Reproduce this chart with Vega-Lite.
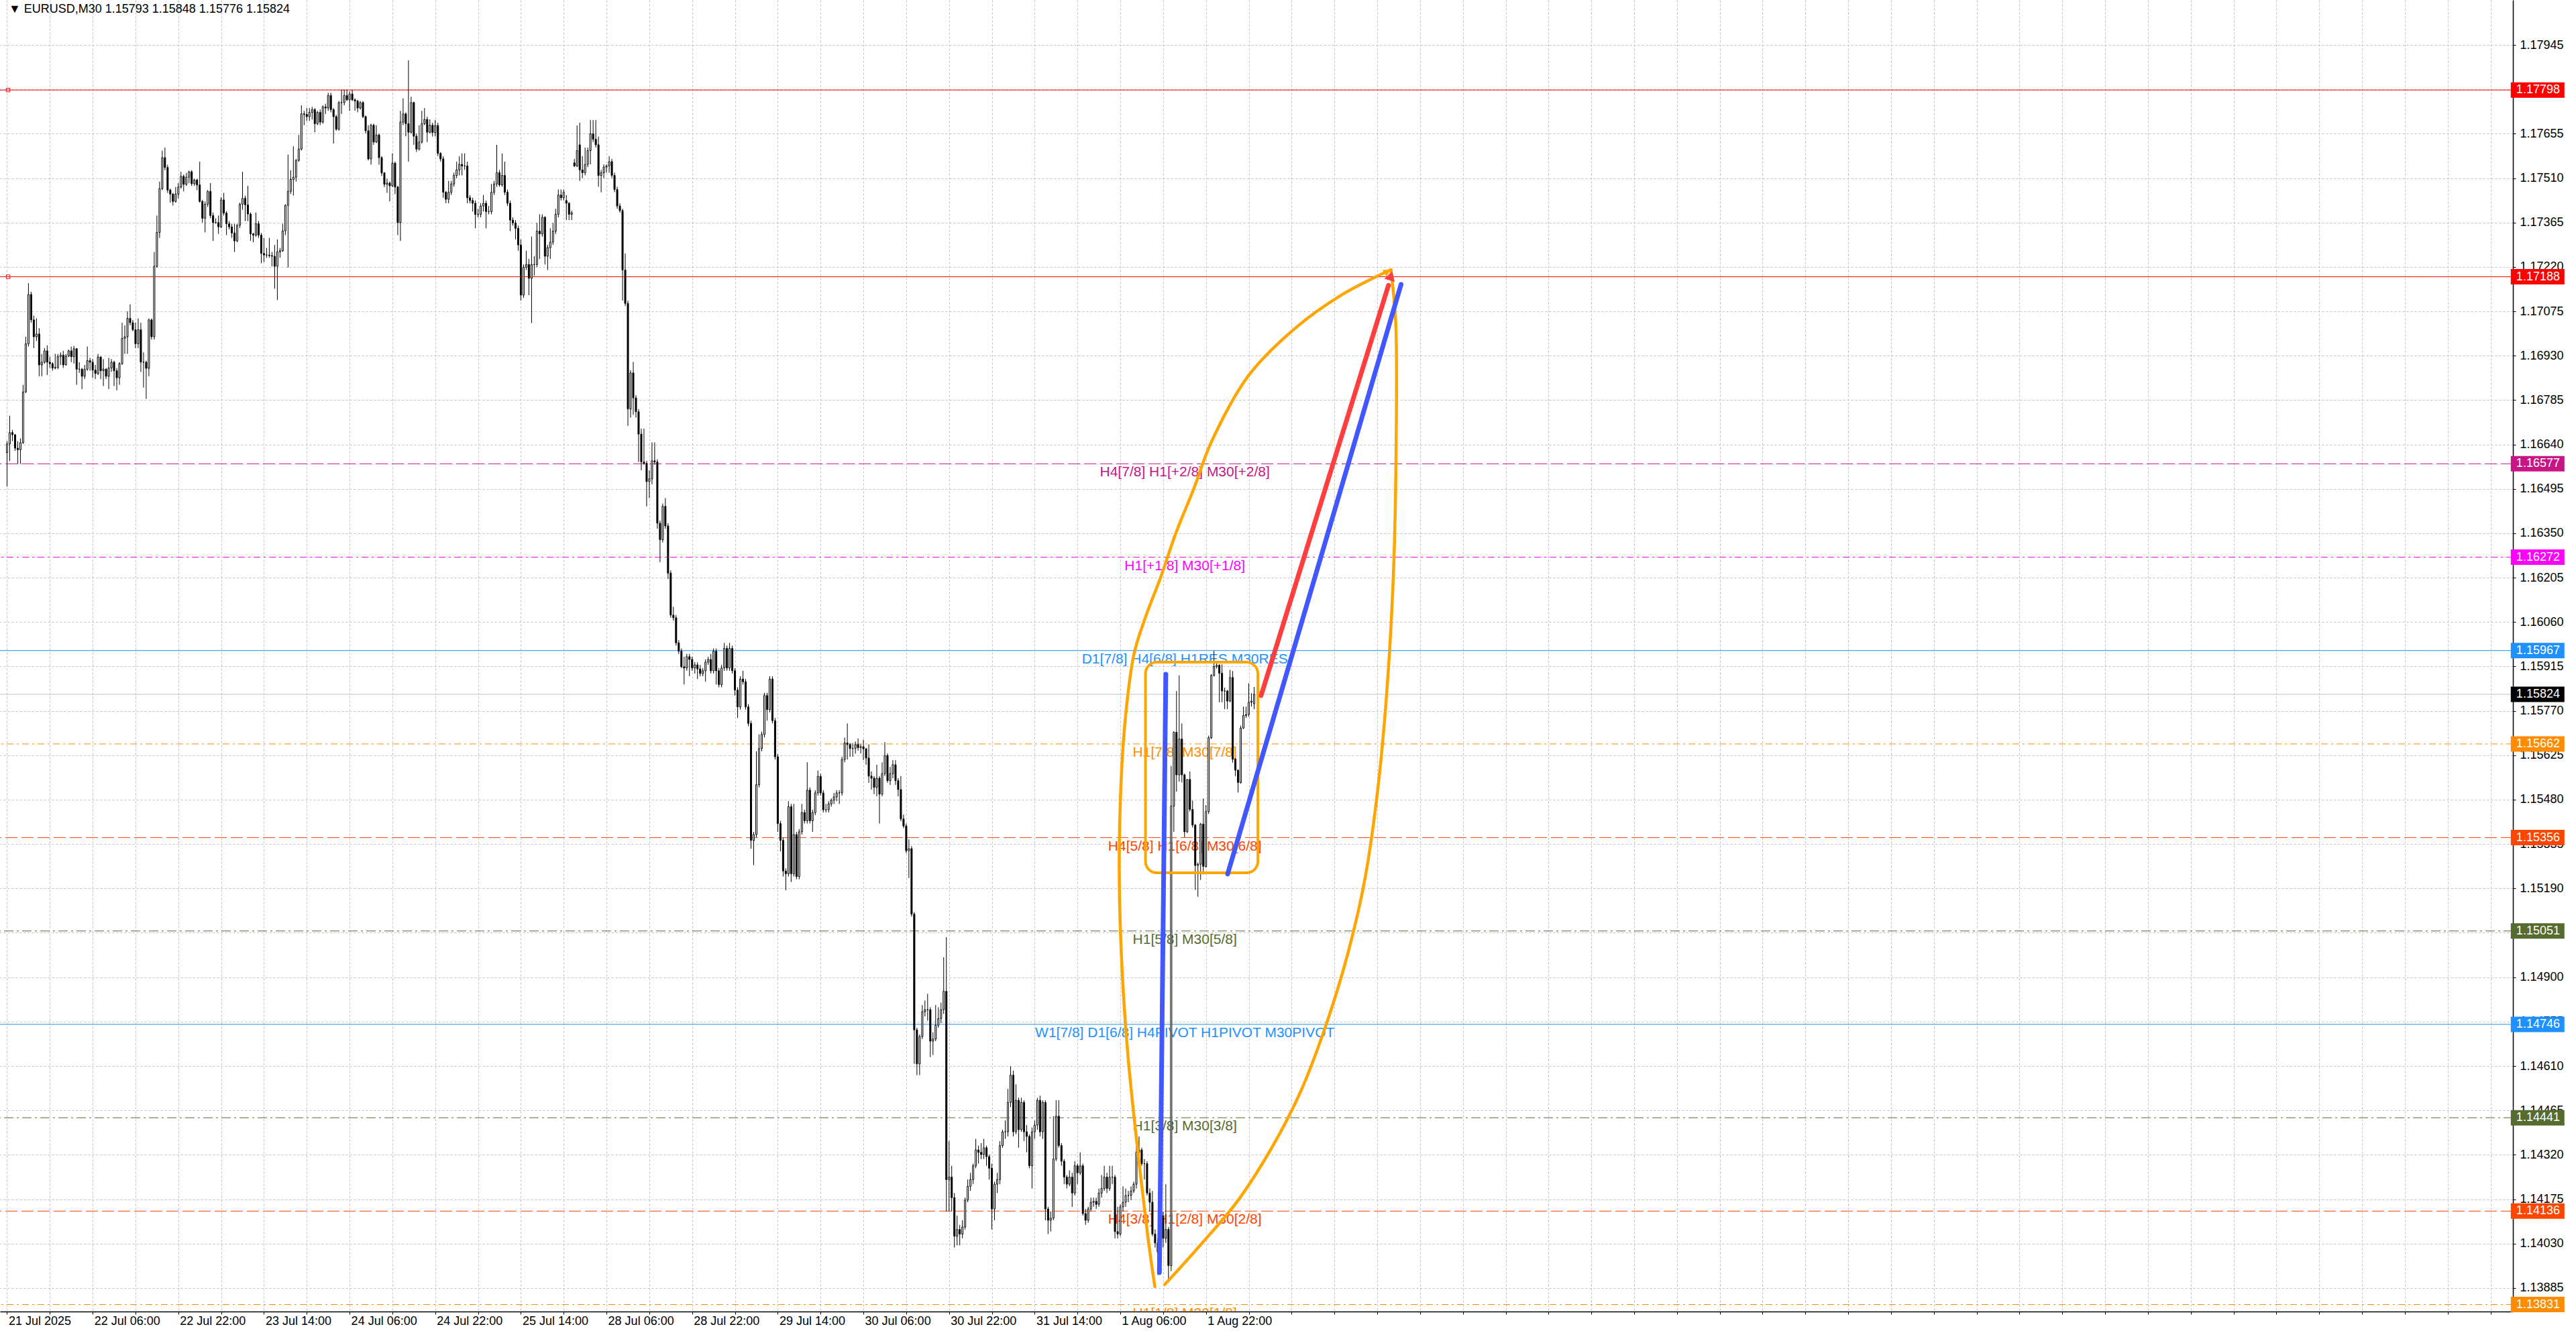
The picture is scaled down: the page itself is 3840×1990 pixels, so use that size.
{
"$schema": "https://vega.github.io/schema/vega-lite/v6.json",
"width": 3746, "height": 1955,
"autosize": {"type": "none"},
"padding": {"left": 0, "top": 0, "right": 94, "bottom": 35},
"background": "#FFFFFF",
"config": {"view": {"stroke": null}},
"datasets": {
"title": [{"t": "▼  EURUSD,M30  1.15793 1.15848 1.15776 1.15824"}],
"levels": [
{"p":1.17798,"g":"Ext","label":""},
{"p":1.17188,"g":"Ext","label":""},
{"p":1.16577,"g":"+2/8","label":"H4[7/8] H1[+2/8] M30[+2/8]"},
{"p":1.16272,"g":"+1/8","label":"H1[+1/8] M30[+1/8]"},
{"p":1.15967,"g":"RES","label":"D1[7/8] H4[6/8] H1RES M30RES"},
{"p":1.15662,"g":"7/8","label":"H1[7/8] M30[7/8]"},
{"p":1.15356,"g":"6/8","label":"H4[5/8] H1[6/8] M30[6/8]"},
{"p":1.15051,"g":"5/8","label":"H1[5/8] M30[5/8]"},
{"p":1.14746,"g":"PIVOT","label":"W1[7/8] D1[6/8] H4PIVOT H1PIVOT M30PIVOT"},
{"p":1.14441,"g":"3/8","label":"H1[3/8] M30[3/8]"},
{"p":1.14136,"g":"2/8","label":"H4[3/8] H1[2/8] M30[2/8]"},
{"p":1.13831,"g":"1/8","label":"H1[1/8] M30[1/8]"},
{"p":1.15824,"g":"Price","label":""}
],
"box": [{"x1":425.4,"x2":467.4,"p1":1.15929,"p2":1.15241}],
"curve": [
{"b":"L","k":1,"x":428.9,"p":1.13889},{"b":"L","k":2,"x":426.4,"p":1.14045},{"b":"L","k":3,"x":422.4,"p":1.14343},{"b":"L","k":4,"x":418.9,"p":1.14639},
{"b":"L","k":5,"x":416.6,"p":1.14934},{"b":"L","k":6,"x":415.6,"p":1.15230},{"b":"L","k":7,"x":416.1,"p":1.15500},{"b":"L","k":8,"x":417.9,"p":1.15747},
{"b":"L","k":9,"x":421.1,"p":1.15955},{"b":"L","k":10,"x":425.4,"p":1.16076},{"b":"L","k":11,"x":431.1,"p":1.16207},{"b":"L","k":12,"x":436.9,"p":1.16354},
{"b":"L","k":13,"x":443.6,"p":1.16499},{"b":"L","k":14,"x":449.9,"p":1.16646},{"b":"L","k":15,"x":463.9,"p":1.16865},{"b":"L","k":16,"x":481.1,"p":1.17018},
{"b":"L","k":17,"x":498.6,"p":1.17128},{"b":"L","k":18,"x":517.1,"p":1.17211},
{"b":"R","k":1,"x":517.1,"p":1.17211},{"b":"R","k":2,"x":518.9,"p":1.17040},{"b":"R","k":3,"x":519.1,"p":1.16668},{"b":"R","k":4,"x":518.1,"p":1.16229},
{"b":"R","k":5,"x":515.6,"p":1.15835},{"b":"R","k":6,"x":512.1,"p":1.15506},{"b":"R","k":7,"x":507.4,"p":1.15221},{"b":"R","k":8,"x":501.1,"p":1.14980},
{"b":"R","k":9,"x":493.1,"p":1.14750},{"b":"R","k":10,"x":483.6,"p":1.14531},{"b":"R","k":11,"x":472.4,"p":1.14340},{"b":"R","k":12,"x":459.9,"p":1.14170},
{"b":"R","k":13,"x":446.1,"p":1.14027},{"b":"R","k":14,"x":432.6,"p":1.13896}
],
"strokes": [
{"s":"v","k":0,"x":430.6,"p":1.13935},{"s":"v","k":1,"x":433.0,"p":1.15890},
{"s":"b","k":0,"x":456.1,"p":1.15237},{"s":"b","k":1,"x":520.9,"p":1.17163},
{"s":"r","k":0,"x":468.6,"p":1.15820},{"s":"r","k":1,"x":516.2,"p":1.17160}
],
"arrow": [{"x":517.1,"p":1.17191}],
"oarrow": [{"x":515.8,"p":1.17205}],
"bars": [
{"i":0,"o":1.16614,"h":1.16651,"l":1.16503,"c":1.16642},
{"i":1,"o":1.16642,"h":1.16734,"l":1.16586,"c":1.16679},
{"i":2,"o":1.16679,"h":1.16688,"l":1.16651,"c":1.16672},
{"i":3,"o":1.16672,"h":1.16674,"l":1.16619,"c":1.16628},
{"i":4,"o":1.16628,"h":1.16651,"l":1.16577,"c":1.16623},
{"i":5,"o":1.16623,"h":1.16660,"l":1.16577,"c":1.16646},
{"i":6,"o":1.16646,"h":1.16835,"l":1.16642,"c":1.16812},
{"i":7,"o":1.16812,"h":1.16992,"l":1.16808,"c":1.16969},
{"i":8,"o":1.16969,"h":1.17167,"l":1.16960,"c":1.17130},
{"i":9,"o":1.17130,"h":1.17139,"l":1.17038,"c":1.17047},
{"i":10,"o":1.17047,"h":1.17061,"l":1.16955,"c":1.16992},
{"i":11,"o":1.16992,"h":1.17052,"l":1.16978,"c":1.17001},
{"i":12,"o":1.17001,"h":1.17020,"l":1.16863,"c":1.16900},
{"i":13,"o":1.16900,"h":1.16936,"l":1.16863,"c":1.16909},
{"i":14,"o":1.16909,"h":1.16955,"l":1.16904,"c":1.16946},
{"i":15,"o":1.16946,"h":1.16964,"l":1.16867,"c":1.16909},
{"i":16,"o":1.16909,"h":1.16927,"l":1.16890,"c":1.16904},
{"i":17,"o":1.16904,"h":1.16909,"l":1.16881,"c":1.16890},
{"i":18,"o":1.16890,"h":1.16936,"l":1.16886,"c":1.16892},
{"i":19,"o":1.16892,"h":1.16936,"l":1.16886,"c":1.16927},
{"i":20,"o":1.16927,"h":1.16941,"l":1.16900,"c":1.16932},
{"i":21,"o":1.16932,"h":1.16946,"l":1.16890,"c":1.16900},
{"i":22,"o":1.16900,"h":1.16936,"l":1.16898,"c":1.16929},
{"i":23,"o":1.16929,"h":1.16950,"l":1.16926,"c":1.16946},
{"i":24,"o":1.16946,"h":1.16960,"l":1.16909,"c":1.16927},
{"i":25,"o":1.16927,"h":1.16962,"l":1.16904,"c":1.16953},
{"i":26,"o":1.16953,"h":1.16955,"l":1.16835,"c":1.16886},
{"i":27,"o":1.16886,"h":1.16909,"l":1.16874,"c":1.16886},
{"i":28,"o":1.16886,"h":1.16890,"l":1.16821,"c":1.16863},
{"i":29,"o":1.16863,"h":1.16900,"l":1.16854,"c":1.16886},
{"i":30,"o":1.16886,"h":1.16960,"l":1.16881,"c":1.16914},
{"i":31,"o":1.16914,"h":1.16923,"l":1.16881,"c":1.16909},
{"i":32,"o":1.16909,"h":1.16919,"l":1.16858,"c":1.16883},
{"i":33,"o":1.16883,"h":1.16900,"l":1.16854,"c":1.16872},
{"i":34,"o":1.16872,"h":1.16936,"l":1.16867,"c":1.16926},
{"i":35,"o":1.16926,"h":1.16927,"l":1.16854,"c":1.16881},
{"i":36,"o":1.16881,"h":1.16919,"l":1.16831,"c":1.16886},
{"i":37,"o":1.16886,"h":1.16890,"l":1.16854,"c":1.16863},
{"i":38,"o":1.16863,"h":1.16923,"l":1.16821,"c":1.16890},
{"i":39,"o":1.16890,"h":1.16919,"l":1.16877,"c":1.16909},
{"i":40,"o":1.16909,"h":1.16914,"l":1.16831,"c":1.16881},
{"i":41,"o":1.16881,"h":1.16890,"l":1.16817,"c":1.16858},
{"i":42,"o":1.16858,"h":1.16909,"l":1.16835,"c":1.16904},
{"i":43,"o":1.16904,"h":1.17038,"l":1.16900,"c":1.16987},
{"i":44,"o":1.16987,"h":1.17029,"l":1.16936,"c":1.16992},
{"i":45,"o":1.16992,"h":1.17075,"l":1.16936,"c":1.17052},
{"i":46,"o":1.17052,"h":1.17098,"l":1.17029,"c":1.17038},
{"i":47,"o":1.17038,"h":1.17047,"l":1.17010,"c":1.17015},
{"i":48,"o":1.17015,"h":1.17038,"l":1.16955,"c":1.16969},
{"i":49,"o":1.16969,"h":1.17052,"l":1.16955,"c":1.17015},
{"i":50,"o":1.17015,"h":1.17038,"l":1.16877,"c":1.16909},
{"i":51,"o":1.16909,"h":1.16941,"l":1.16826,"c":1.16909},
{"i":52,"o":1.16909,"h":1.16914,"l":1.16789,"c":1.16889},
{"i":53,"o":1.16889,"h":1.17052,"l":1.16863,"c":1.17047},
{"i":54,"o":1.17047,"h":1.17052,"l":1.16983,"c":1.16992},
{"i":55,"o":1.16992,"h":1.17269,"l":1.16983,"c":1.17222},
{"i":56,"o":1.17222,"h":1.17388,"l":1.17218,"c":1.17333},
{"i":57,"o":1.17333,"h":1.17499,"l":1.17315,"c":1.17476},
{"i":58,"o":1.17476,"h":1.17600,"l":1.17471,"c":1.17577},
{"i":59,"o":1.17577,"h":1.17610,"l":1.17536,"c":1.17545},
{"i":60,"o":1.17545,"h":1.17554,"l":1.17462,"c":1.17471},
{"i":61,"o":1.17471,"h":1.17476,"l":1.17430,"c":1.17458},
{"i":62,"o":1.17458,"h":1.17462,"l":1.17421,"c":1.17434},
{"i":63,"o":1.17434,"h":1.17481,"l":1.17430,"c":1.17458},
{"i":64,"o":1.17458,"h":1.17494,"l":1.17444,"c":1.17481},
{"i":65,"o":1.17481,"h":1.17531,"l":1.17476,"c":1.17516},
{"i":66,"o":1.17516,"h":1.17522,"l":1.17467,"c":1.17490},
{"i":67,"o":1.17490,"h":1.17527,"l":1.17485,"c":1.17513},
{"i":68,"o":1.17513,"h":1.17534,"l":1.17494,"c":1.17531},
{"i":69,"o":1.17531,"h":1.17536,"l":1.17485,"c":1.17492},
{"i":70,"o":1.17492,"h":1.17508,"l":1.17485,"c":1.17504},
{"i":71,"o":1.17504,"h":1.17508,"l":1.17471,"c":1.17488},
{"i":72,"o":1.17488,"h":1.17564,"l":1.17430,"c":1.17434},
{"i":73,"o":1.17434,"h":1.17439,"l":1.17365,"c":1.17379},
{"i":74,"o":1.17379,"h":1.17434,"l":1.17333,"c":1.17425},
{"i":75,"o":1.17425,"h":1.17471,"l":1.17416,"c":1.17467},
{"i":76,"o":1.17467,"h":1.17494,"l":1.17379,"c":1.17388},
{"i":77,"o":1.17388,"h":1.17398,"l":1.17305,"c":1.17365},
{"i":78,"o":1.17365,"h":1.17379,"l":1.17361,"c":1.17365},
{"i":79,"o":1.17365,"h":1.17388,"l":1.17328,"c":1.17351},
{"i":80,"o":1.17351,"h":1.17448,"l":1.17347,"c":1.17439},
{"i":81,"o":1.17439,"h":1.17462,"l":1.17388,"c":1.17396},
{"i":82,"o":1.17396,"h":1.17402,"l":1.17324,"c":1.17361},
{"i":83,"o":1.17361,"h":1.17370,"l":1.17342,"c":1.17351},
{"i":84,"o":1.17351,"h":1.17361,"l":1.17315,"c":1.17331},
{"i":85,"o":1.17331,"h":1.17361,"l":1.17269,"c":1.17305},
{"i":86,"o":1.17305,"h":1.17361,"l":1.17301,"c":1.17356},
{"i":87,"o":1.17356,"h":1.17430,"l":1.17347,"c":1.17425},
{"i":88,"o":1.17425,"h":1.17531,"l":1.17407,"c":1.17444},
{"i":89,"o":1.17444,"h":1.17453,"l":1.17370,"c":1.17423},
{"i":90,"o":1.17423,"h":1.17485,"l":1.17370,"c":1.17393},
{"i":91,"o":1.17393,"h":1.17398,"l":1.17305,"c":1.17328},
{"i":92,"o":1.17328,"h":1.17331,"l":1.17301,"c":1.17324},
{"i":93,"o":1.17324,"h":1.17398,"l":1.17319,"c":1.17361},
{"i":94,"o":1.17361,"h":1.17370,"l":1.17315,"c":1.17324},
{"i":95,"o":1.17324,"h":1.17331,"l":1.17232,"c":1.17264},
{"i":96,"o":1.17264,"h":1.17315,"l":1.17236,"c":1.17259},
{"i":97,"o":1.17259,"h":1.17282,"l":1.17250,"c":1.17259},
{"i":98,"o":1.17259,"h":1.17315,"l":1.17250,"c":1.17257},
{"i":99,"o":1.17257,"h":1.17269,"l":1.17222,"c":1.17255},
{"i":100,"o":1.17255,"h":1.17292,"l":1.17149,"c":1.17222},
{"i":101,"o":1.17222,"h":1.17310,"l":1.17112,"c":1.17269},
{"i":102,"o":1.17269,"h":1.17282,"l":1.17250,"c":1.17273},
{"i":103,"o":1.17273,"h":1.17361,"l":1.17269,"c":1.17338},
{"i":104,"o":1.17338,"h":1.17425,"l":1.17324,"c":1.17421},
{"i":105,"o":1.17421,"h":1.17587,"l":1.17218,"c":1.17467},
{"i":106,"o":1.17467,"h":1.17536,"l":1.17458,"c":1.17506},
{"i":107,"o":1.17506,"h":1.17614,"l":1.17453,"c":1.17513},
{"i":108,"o":1.17513,"h":1.17573,"l":1.17499,"c":1.17568},
{"i":109,"o":1.17568,"h":1.17651,"l":1.17564,"c":1.17605},
{"i":110,"o":1.17605,"h":1.17748,"l":1.17600,"c":1.17720},
{"i":111,"o":1.17720,"h":1.17730,"l":1.17683,"c":1.17718},
{"i":112,"o":1.17718,"h":1.17739,"l":1.17697,"c":1.17711},
{"i":113,"o":1.17711,"h":1.17739,"l":1.17697,"c":1.17725},
{"i":114,"o":1.17725,"h":1.17743,"l":1.17702,"c":1.17734},
{"i":115,"o":1.17734,"h":1.17739,"l":1.17660,"c":1.17688},
{"i":116,"o":1.17688,"h":1.17730,"l":1.17683,"c":1.17725},
{"i":117,"o":1.17725,"h":1.17734,"l":1.17683,"c":1.17693},
{"i":118,"o":1.17693,"h":1.17748,"l":1.17688,"c":1.17743},
{"i":119,"o":1.17743,"h":1.17753,"l":1.17720,"c":1.17739},
{"i":120,"o":1.17739,"h":1.17789,"l":1.17730,"c":1.17780},
{"i":121,"o":1.17780,"h":1.17789,"l":1.17725,"c":1.17734},
{"i":122,"o":1.17734,"h":1.17739,"l":1.17623,"c":1.17711},
{"i":123,"o":1.17711,"h":1.17717,"l":1.17665,"c":1.17670},
{"i":124,"o":1.17670,"h":1.17762,"l":1.17665,"c":1.17757},
{"i":125,"o":1.17757,"h":1.17799,"l":1.17720,"c":1.17757},
{"i":126,"o":1.17757,"h":1.17799,"l":1.17748,"c":1.17780},
{"i":127,"o":1.17780,"h":1.17799,"l":1.17762,"c":1.17766},
{"i":128,"o":1.17766,"h":1.17794,"l":1.17730,"c":1.17785},
{"i":129,"o":1.17785,"h":1.17799,"l":1.17762,"c":1.17766},
{"i":130,"o":1.17766,"h":1.17771,"l":1.17730,"c":1.17762},
{"i":131,"o":1.17762,"h":1.17766,"l":1.17725,"c":1.17739},
{"i":132,"o":1.17739,"h":1.17762,"l":1.17734,"c":1.17757},
{"i":133,"o":1.17757,"h":1.17762,"l":1.17706,"c":1.17711},
{"i":134,"o":1.17711,"h":1.17715,"l":1.17656,"c":1.17665},
{"i":135,"o":1.17665,"h":1.17683,"l":1.17568,"c":1.17573},
{"i":136,"o":1.17573,"h":1.17688,"l":1.17554,"c":1.17683},
{"i":137,"o":1.17683,"h":1.17688,"l":1.17619,"c":1.17628},
{"i":138,"o":1.17628,"h":1.17683,"l":1.17625,"c":1.17651},
{"i":139,"o":1.17651,"h":1.17656,"l":1.17554,"c":1.17577},
{"i":140,"o":1.17577,"h":1.17582,"l":1.17517,"c":1.17527},
{"i":141,"o":1.17527,"h":1.17530,"l":1.17481,"c":1.17490},
{"i":142,"o":1.17490,"h":1.17508,"l":1.17462,"c":1.17494},
{"i":143,"o":1.17494,"h":1.17499,"l":1.17434,"c":1.17485},
{"i":144,"o":1.17485,"h":1.17591,"l":1.17481,"c":1.17559},
{"i":145,"o":1.17559,"h":1.17564,"l":1.17458,"c":1.17481},
{"i":146,"o":1.17481,"h":1.17485,"l":1.17324,"c":1.17365},
{"i":147,"o":1.17365,"h":1.17730,"l":1.17305,"c":1.17693},
{"i":148,"o":1.17693,"h":1.17771,"l":1.17683,"c":1.17720},
{"i":149,"o":1.17720,"h":1.17725,"l":1.17647,"c":1.17688},
{"i":150,"o":1.17688,"h":1.17895,"l":1.17564,"c":1.17660},
{"i":151,"o":1.17660,"h":1.17776,"l":1.17656,"c":1.17757},
{"i":152,"o":1.17757,"h":1.17760,"l":1.17619,"c":1.17647},
{"i":153,"o":1.17647,"h":1.17656,"l":1.17596,"c":1.17605},
{"i":154,"o":1.17605,"h":1.17683,"l":1.17600,"c":1.17628},
{"i":155,"o":1.17628,"h":1.17730,"l":1.17623,"c":1.17688},
{"i":156,"o":1.17688,"h":1.17739,"l":1.17683,"c":1.17702},
{"i":157,"o":1.17702,"h":1.17711,"l":1.17628,"c":1.17660},
{"i":158,"o":1.17660,"h":1.17702,"l":1.17656,"c":1.17683},
{"i":159,"o":1.17683,"h":1.17691,"l":1.17646,"c":1.17659},
{"i":160,"o":1.17659,"h":1.17700,"l":1.17646,"c":1.17682},
{"i":161,"o":1.17682,"h":1.17691,"l":1.17582,"c":1.17591},
{"i":162,"o":1.17591,"h":1.17595,"l":1.17564,"c":1.17573},
{"i":163,"o":1.17573,"h":1.17582,"l":1.17446,"c":1.17464},
{"i":164,"o":1.17464,"h":1.17468,"l":1.17428,"c":1.17441},
{"i":165,"o":1.17441,"h":1.17501,"l":1.17428,"c":1.17464},
{"i":166,"o":1.17464,"h":1.17501,"l":1.17455,"c":1.17491},
{"i":167,"o":1.17491,"h":1.17528,"l":1.17482,"c":1.17519},
{"i":168,"o":1.17519,"h":1.17564,"l":1.17510,"c":1.17537},
{"i":169,"o":1.17537,"h":1.17582,"l":1.17519,"c":1.17555},
{"i":170,"o":1.17555,"h":1.17591,"l":1.17519,"c":1.17550},
{"i":171,"o":1.17550,"h":1.17591,"l":1.17537,"c":1.17550},
{"i":172,"o":1.17550,"h":1.17564,"l":1.17428,"c":1.17446},
{"i":173,"o":1.17446,"h":1.17455,"l":1.17428,"c":1.17437},
{"i":174,"o":1.17437,"h":1.17446,"l":1.17401,"c":1.17428},
{"i":175,"o":1.17428,"h":1.17437,"l":1.17346,"c":1.17392},
{"i":176,"o":1.17392,"h":1.17410,"l":1.17382,"c":1.17392},
{"i":177,"o":1.17392,"h":1.17428,"l":1.17382,"c":1.17419},
{"i":178,"o":1.17419,"h":1.17455,"l":1.17401,"c":1.17428},
{"i":179,"o":1.17428,"h":1.17437,"l":1.17346,"c":1.17401},
{"i":180,"o":1.17401,"h":1.17419,"l":1.17392,"c":1.17401},
{"i":181,"o":1.17401,"h":1.17491,"l":1.17392,"c":1.17464},
{"i":182,"o":1.17464,"h":1.17501,"l":1.17455,"c":1.17491},
{"i":183,"o":1.17491,"h":1.17619,"l":1.17482,"c":1.17528},
{"i":184,"o":1.17528,"h":1.17537,"l":1.17482,"c":1.17488},
{"i":185,"o":1.17488,"h":1.17591,"l":1.17482,"c":1.17519},
{"i":186,"o":1.17519,"h":1.17564,"l":1.17455,"c":1.17464},
{"i":187,"o":1.17464,"h":1.17473,"l":1.17419,"c":1.17428},
{"i":188,"o":1.17428,"h":1.17437,"l":1.17337,"c":1.17373},
{"i":189,"o":1.17373,"h":1.17382,"l":1.17355,"c":1.17364},
{"i":190,"o":1.17364,"h":1.17373,"l":1.17310,"c":1.17346},
{"i":191,"o":1.17346,"h":1.17355,"l":1.17273,"c":1.17292},
{"i":192,"o":1.17292,"h":1.17310,"l":1.17110,"c":1.17128},
{"i":193,"o":1.17128,"h":1.17228,"l":1.17119,"c":1.17219},
{"i":194,"o":1.17219,"h":1.17273,"l":1.17210,"c":1.17228},
{"i":195,"o":1.17228,"h":1.17246,"l":1.17128,"c":1.17183},
{"i":196,"o":1.17183,"h":1.17319,"l":1.17037,"c":1.17228},
{"i":197,"o":1.17228,"h":1.17255,"l":1.17192,"c":1.17228},
{"i":198,"o":1.17228,"h":1.17364,"l":1.17219,"c":1.17337},
{"i":199,"o":1.17337,"h":1.17392,"l":1.17246,"c":1.17328},
{"i":200,"o":1.17328,"h":1.17392,"l":1.17319,"c":1.17382},
{"i":201,"o":1.17382,"h":1.17386,"l":1.17228,"c":1.17255},
{"i":202,"o":1.17255,"h":1.17292,"l":1.17210,"c":1.17283},
{"i":203,"o":1.17283,"h":1.17346,"l":1.17246,"c":1.17301},
{"i":204,"o":1.17301,"h":1.17364,"l":1.17292,"c":1.17337},
{"i":205,"o":1.17337,"h":1.17410,"l":1.17328,"c":1.17392},
{"i":206,"o":1.17392,"h":1.17473,"l":1.17382,"c":1.17455},
{"i":207,"o":1.17455,"h":1.17473,"l":1.17437,"c":1.17446},
{"i":208,"o":1.17446,"h":1.17473,"l":1.17437,"c":1.17464},
{"i":209,"o":1.17437,"h":1.17455,"l":1.17373,"c":1.17428},
{"i":210,"o":1.17428,"h":1.17432,"l":1.17373,"c":1.17392},
{"i":211,"o":1.17392,"h":1.17404,"l":1.17373,"c":1.17397},
{"i":212,"o":1.17560,"h":1.17573,"l":1.17546,"c":1.17550},
{"i":213,"o":1.17550,"h":1.17682,"l":1.17546,"c":1.17600},
{"i":214,"o":1.17619,"h":1.17691,"l":1.17501,"c":1.17537},
{"i":215,"o":1.17537,"h":1.17582,"l":1.17510,"c":1.17528},
{"i":216,"o":1.17528,"h":1.17610,"l":1.17519,"c":1.17555},
{"i":217,"o":1.17555,"h":1.17610,"l":1.17546,"c":1.17600},
{"i":218,"o":1.17600,"h":1.17700,"l":1.17555,"c":1.17655},
{"i":219,"o":1.17655,"h":1.17700,"l":1.17628,"c":1.17637},
{"i":220,"o":1.17637,"h":1.17700,"l":1.17610,"c":1.17619},
{"i":221,"o":1.17619,"h":1.17646,"l":1.17482,"c":1.17519},
{"i":222,"o":1.17519,"h":1.17537,"l":1.17464,"c":1.17528},
{"i":223,"o":1.17528,"h":1.17555,"l":1.17510,"c":1.17546},
{"i":224,"o":1.17546,"h":1.17555,"l":1.17528,"c":1.17550},
{"i":225,"o":1.17550,"h":1.17582,"l":1.17528,"c":1.17564},
{"i":226,"o":1.17564,"h":1.17573,"l":1.17510,"c":1.17519},
{"i":227,"o":1.17519,"h":1.17528,"l":1.17464,"c":1.17473},
{"i":228,"o":1.17473,"h":1.17482,"l":1.17410,"c":1.17419},
{"i":229,"o":1.17419,"h":1.17428,"l":1.17397,"c":1.17404},
{"i":230,"o":1.17404,"h":1.17410,"l":1.17110,"c":1.17210},
{"i":231,"o":1.17210,"h":1.17264,"l":1.17092,"c":1.17101},
{"i":232,"o":1.17101,"h":1.17110,"l":1.16701,"c":1.16756},
{"i":233,"o":1.16756,"h":1.16883,"l":1.16728,"c":1.16874},
{"i":234,"o":1.16874,"h":1.16910,"l":1.16737,"c":1.16792},
{"i":235,"o":1.16792,"h":1.16801,"l":1.16728,"c":1.16747},
{"i":236,"o":1.16747,"h":1.16756,"l":1.16583,"c":1.16674},
{"i":237,"o":1.16674,"h":1.16692,"l":1.16556,"c":1.16583},
{"i":238,"o":1.16583,"h":1.16692,"l":1.16574,"c":1.16579},
{"i":239,"o":1.16579,"h":1.16587,"l":1.16438,"c":1.16519},
{"i":240,"o":1.16519,"h":1.16556,"l":1.16465,"c":1.16528},
{"i":241,"o":1.16528,"h":1.16647,"l":1.16510,"c":1.16587},
{"i":242,"o":1.16587,"h":1.16647,"l":1.16574,"c":1.16583},
{"i":243,"o":1.16583,"h":1.16592,"l":1.16365,"c":1.16383},
{"i":244,"o":1.16383,"h":1.16392,"l":1.16256,"c":1.16329},
{"i":245,"o":1.16329,"h":1.16447,"l":1.16320,"c":1.16438},
{"i":246,"o":1.16438,"h":1.16465,"l":1.16365,"c":1.16374},
{"i":247,"o":1.16374,"h":1.16383,"l":1.16201,"c":1.16220},
{"i":248,"o":1.16220,"h":1.16229,"l":1.16074,"c":1.16083},
{"i":249,"o":1.16083,"h":1.16110,"l":1.16065,"c":1.16074},
{"i":250,"o":1.16074,"h":1.16083,"l":1.15983,"c":1.15992},
{"i":251,"o":1.15992,"h":1.16001,"l":1.15956,"c":1.15965},
{"i":252,"o":1.15965,"h":1.15974,"l":1.15910,"c":1.15914},
{"i":253,"o":1.15914,"h":1.15947,"l":1.15856,"c":1.15910},
{"i":254,"o":1.15910,"h":1.15956,"l":1.15901,"c":1.15947},
{"i":255,"o":1.15947,"h":1.15956,"l":1.15883,"c":1.15938},
{"i":256,"o":1.15938,"h":1.15947,"l":1.15901,"c":1.15910},
{"i":257,"o":1.15910,"h":1.15929,"l":1.15892,"c":1.15920},
{"i":258,"o":1.15920,"h":1.15929,"l":1.15874,"c":1.15907},
{"i":259,"o":1.15907,"h":1.15920,"l":1.15883,"c":1.15892},
{"i":260,"o":1.15892,"h":1.15910,"l":1.15883,"c":1.15901},
{"i":261,"o":1.15901,"h":1.15938,"l":1.15865,"c":1.15929},
{"i":262,"o":1.15929,"h":1.15947,"l":1.15920,"c":1.15938},
{"i":263,"o":1.15938,"h":1.15956,"l":1.15892,"c":1.15901},
{"i":264,"o":1.15901,"h":1.15974,"l":1.15892,"c":1.15965},
{"i":265,"o":1.15965,"h":1.15974,"l":1.15856,"c":1.15901},
{"i":266,"o":1.15901,"h":1.15910,"l":1.15847,"c":1.15856},
{"i":267,"o":1.15856,"h":1.15920,"l":1.15847,"c":1.15910},
{"i":268,"o":1.15910,"h":1.15992,"l":1.15901,"c":1.15974},
{"i":269,"o":1.15974,"h":1.15983,"l":1.15901,"c":1.15910},
{"i":270,"o":1.15910,"h":1.15992,"l":1.15901,"c":1.15974},
{"i":271,"o":1.15974,"h":1.15983,"l":1.15892,"c":1.15901},
{"i":272,"o":1.15901,"h":1.15910,"l":1.15820,"c":1.15838},
{"i":273,"o":1.15838,"h":1.15847,"l":1.15747,"c":1.15783},
{"i":274,"o":1.15783,"h":1.15883,"l":1.15774,"c":1.15874},
{"i":275,"o":1.15874,"h":1.15901,"l":1.15856,"c":1.15865},
{"i":276,"o":1.15865,"h":1.15874,"l":1.15774,"c":1.15783},
{"i":277,"o":1.15783,"h":1.15792,"l":1.15720,"c":1.15729},
{"i":278,"o":1.15729,"h":1.15738,"l":1.15320,"c":1.15347},
{"i":279,"o":1.15347,"h":1.15375,"l":1.15266,"c":1.15366},
{"i":280,"o":1.15366,"h":1.15638,"l":1.15357,"c":1.15529},
{"i":281,"o":1.15529,"h":1.15693,"l":1.15520,"c":1.15647},
{"i":282,"o":1.15647,"h":1.15702,"l":1.15638,"c":1.15693},
{"i":283,"o":1.15693,"h":1.15829,"l":1.15683,"c":1.15820},
{"i":284,"o":1.15820,"h":1.15829,"l":1.15738,"c":1.15774},
{"i":285,"o":1.15774,"h":1.15883,"l":1.15765,"c":1.15874},
{"i":286,"o":1.15874,"h":1.15883,"l":1.15729,"c":1.15738},
{"i":287,"o":1.15738,"h":1.15747,"l":1.15611,"c":1.15620},
{"i":288,"o":1.15620,"h":1.15629,"l":1.15375,"c":1.15402},
{"i":289,"o":1.15402,"h":1.15411,"l":1.15311,"c":1.15347},
{"i":290,"o":1.15347,"h":1.15356,"l":1.15229,"c":1.15247},
{"i":291,"o":1.15247,"h":1.15256,"l":1.15184,"c":1.15238},
{"i":292,"o":1.15238,"h":1.15475,"l":1.15229,"c":1.15457},
{"i":293,"o":1.15457,"h":1.15466,"l":1.15211,"c":1.15238},
{"i":294,"o":1.15238,"h":1.15466,"l":1.15229,"c":1.15366},
{"i":295,"o":1.15366,"h":1.15375,"l":1.15220,"c":1.15229},
{"i":296,"o":1.15229,"h":1.15384,"l":1.15220,"c":1.15375},
{"i":297,"o":1.15375,"h":1.15466,"l":1.15366,"c":1.15438},
{"i":298,"o":1.15438,"h":1.15447,"l":1.15402,"c":1.15411},
{"i":299,"o":1.15411,"h":1.15602,"l":1.15402,"c":1.15511},
{"i":300,"o":1.15511,"h":1.15520,"l":1.15402,"c":1.15411},
{"i":301,"o":1.15411,"h":1.15447,"l":1.15375,"c":1.15438},
{"i":302,"o":1.15438,"h":1.15511,"l":1.15429,"c":1.15502},
{"i":303,"o":1.15502,"h":1.15575,"l":1.15493,"c":1.15556},
{"i":304,"o":1.15556,"h":1.15565,"l":1.15493,"c":1.15502},
{"i":305,"o":1.15502,"h":1.15511,"l":1.15438,"c":1.15447},
{"i":306,"o":1.15447,"h":1.15466,"l":1.15438,"c":1.15447},
{"i":307,"o":1.15447,"h":1.15475,"l":1.15438,"c":1.15466},
{"i":308,"o":1.15466,"h":1.15484,"l":1.15457,"c":1.15478},
{"i":309,"o":1.15478,"h":1.15502,"l":1.15466,"c":1.15489},
{"i":310,"o":1.15489,"h":1.15511,"l":1.15475,"c":1.15502},
{"i":311,"o":1.15502,"h":1.15511,"l":1.15466,"c":1.15502},
{"i":312,"o":1.15502,"h":1.15620,"l":1.15493,"c":1.15611},
{"i":313,"o":1.15611,"h":1.15683,"l":1.15602,"c":1.15665},
{"i":314,"o":1.15665,"h":1.15729,"l":1.15611,"c":1.15660},
{"i":315,"o":1.15660,"h":1.15665,"l":1.15620,"c":1.15647},
{"i":316,"o":1.15647,"h":1.15665,"l":1.15620,"c":1.15647},
{"i":317,"o":1.15647,"h":1.15670,"l":1.15630,"c":1.15660},
{"i":318,"o":1.15660,"h":1.15680,"l":1.15640,"c":1.15650},
{"i":319,"o":1.15650,"h":1.15661,"l":1.15631,"c":1.15653},
{"i":320,"o":1.15653,"h":1.15676,"l":1.15609,"c":1.15646},
{"i":321,"o":1.15646,"h":1.15649,"l":1.15594,"c":1.15616},
{"i":322,"o":1.15616,"h":1.15661,"l":1.15535,"c":1.15557},
{"i":323,"o":1.15557,"h":1.15572,"l":1.15513,"c":1.15550},
{"i":324,"o":1.15550,"h":1.15557,"l":1.15498,"c":1.15520},
{"i":325,"o":1.15520,"h":1.15594,"l":1.15491,"c":1.15550},
{"i":326,"o":1.15550,"h":1.15557,"l":1.15402,"c":1.15498},
{"i":327,"o":1.15498,"h":1.15602,"l":1.15491,"c":1.15565},
{"i":328,"o":1.15565,"h":1.15668,"l":1.15557,"c":1.15624},
{"i":329,"o":1.15624,"h":1.15631,"l":1.15535,"c":1.15542},
{"i":330,"o":1.15542,"h":1.15587,"l":1.15528,"c":1.15565},
{"i":331,"o":1.15565,"h":1.15609,"l":1.15550,"c":1.15594},
{"i":332,"o":1.15594,"h":1.15609,"l":1.15528,"c":1.15542},
{"i":333,"o":1.15542,"h":1.15550,"l":1.15491,"c":1.15513},
{"i":334,"o":1.15513,"h":1.15557,"l":1.15409,"c":1.15417},
{"i":335,"o":1.15417,"h":1.15431,"l":1.15387,"c":1.15394},
{"i":336,"o":1.15394,"h":1.15402,"l":1.15305,"c":1.15313},
{"i":337,"o":1.15313,"h":1.15350,"l":1.15224,"c":1.15320},
{"i":338,"o":1.15320,"h":1.15328,"l":1.15098,"c":1.15106},
{"i":339,"o":1.15106,"h":1.15113,"l":1.14617,"c":1.14728},
{"i":340,"o":1.14728,"h":1.14735,"l":1.14580,"c":1.14617},
{"i":341,"o":1.14617,"h":1.14713,"l":1.14580,"c":1.14706},
{"i":342,"o":1.14706,"h":1.14809,"l":1.14698,"c":1.14787},
{"i":343,"o":1.14787,"h":1.14824,"l":1.14772,"c":1.14794},
{"i":344,"o":1.14794,"h":1.14846,"l":1.14758,"c":1.14794},
{"i":345,"o":1.14794,"h":1.14802,"l":1.14639,"c":1.14691},
{"i":346,"o":1.14691,"h":1.14720,"l":1.14646,"c":1.14698},
{"i":347,"o":1.14698,"h":1.14809,"l":1.14691,"c":1.14743},
{"i":348,"o":1.14743,"h":1.14802,"l":1.14735,"c":1.14765},
{"i":349,"o":1.14765,"h":1.14817,"l":1.14750,"c":1.14794},
{"i":350,"o":1.14794,"h":1.14965,"l":1.14780,"c":1.14854},
{"i":351,"o":1.14854,"h":1.15031,"l":1.14135,"c":1.14239},
{"i":352,"o":1.14239,"h":1.14365,"l":1.14135,"c":1.14247},
{"i":353,"o":1.14247,"h":1.14284,"l":1.14135,"c":1.14180},
{"i":354,"o":1.14180,"h":1.14195,"l":1.14017,"c":1.14054},
{"i":355,"o":1.14054,"h":1.14121,"l":1.14024,"c":1.14076},
{"i":356,"o":1.14076,"h":1.14091,"l":1.14024,"c":1.14061},
{"i":357,"o":1.14061,"h":1.14106,"l":1.14047,"c":1.14084},
{"i":358,"o":1.14084,"h":1.14180,"l":1.14076,"c":1.14172},
{"i":359,"o":1.14172,"h":1.14239,"l":1.14165,"c":1.14217},
{"i":360,"o":1.14217,"h":1.14261,"l":1.14202,"c":1.14239},
{"i":361,"o":1.14239,"h":1.14291,"l":1.14224,"c":1.14284},
{"i":362,"o":1.14284,"h":1.14372,"l":1.14276,"c":1.14336},
{"i":363,"o":1.14336,"h":1.14350,"l":1.14291,"c":1.14328},
{"i":364,"o":1.14328,"h":1.14358,"l":1.14306,"c":1.14321},
{"i":365,"o":1.14321,"h":1.14372,"l":1.14306,"c":1.14343},
{"i":366,"o":1.14343,"h":1.14350,"l":1.14284,"c":1.14314},
{"i":367,"o":1.14314,"h":1.14321,"l":1.14239,"c":1.14276},
{"i":368,"o":1.14276,"h":1.14291,"l":1.14076,"c":1.14143},
{"i":369,"o":1.14143,"h":1.14232,"l":1.14106,"c":1.14224},
{"i":370,"o":1.14224,"h":1.14261,"l":1.14195,"c":1.14239},
{"i":371,"o":1.14239,"h":1.14365,"l":1.14224,"c":1.14350},
{"i":372,"o":1.14350,"h":1.14402,"l":1.14343,"c":1.14395},
{"i":373,"o":1.14395,"h":1.14432,"l":1.14372,"c":1.14395},
{"i":374,"o":1.14395,"h":1.14535,"l":1.14380,"c":1.14491},
{"i":375,"o":1.14491,"h":1.14609,"l":1.14476,"c":1.14580},
{"i":376,"o":1.14580,"h":1.14595,"l":1.14380,"c":1.14395},
{"i":377,"o":1.14395,"h":1.14550,"l":1.14387,"c":1.14498},
{"i":378,"o":1.14498,"h":1.14506,"l":1.14343,"c":1.14402},
{"i":379,"o":1.14402,"h":1.14506,"l":1.14395,"c":1.14491},
{"i":380,"o":1.14491,"h":1.14498,"l":1.14365,"c":1.14395},
{"i":381,"o":1.14395,"h":1.14417,"l":1.14328,"c":1.14380},
{"i":382,"o":1.14380,"h":1.14387,"l":1.14276,"c":1.14284},
{"i":383,"o":1.14284,"h":1.14409,"l":1.14210,"c":1.14395},
{"i":384,"o":1.14395,"h":1.14432,"l":1.14372,"c":1.14417},
{"i":385,"o":1.14417,"h":1.14506,"l":1.14402,"c":1.14498},
{"i":386,"o":1.14498,"h":1.14513,"l":1.14380,"c":1.14395},
{"i":387,"o":1.14395,"h":1.14498,"l":1.14372,"c":1.14491},
{"i":388,"o":1.14491,"h":1.14498,"l":1.14106,"c":1.14143},
{"i":389,"o":1.14143,"h":1.14150,"l":1.14061,"c":1.14106},
{"i":390,"o":1.14106,"h":1.14135,"l":1.14069,"c":1.14113},
{"i":391,"o":1.14113,"h":1.14446,"l":1.14106,"c":1.14306},
{"i":392,"o":1.14306,"h":1.14498,"l":1.14299,"c":1.14446},
{"i":393,"o":1.14446,"h":1.14498,"l":1.14343,"c":1.14350},
{"i":394,"o":1.14350,"h":1.14358,"l":1.14284,"c":1.14299},
{"i":395,"o":1.14299,"h":1.14306,"l":1.14224,"c":1.14247},
{"i":396,"o":1.14247,"h":1.14254,"l":1.14210,"c":1.14224},
{"i":397,"o":1.14224,"h":1.14269,"l":1.14217,"c":1.14247},
{"i":398,"o":1.14247,"h":1.14261,"l":1.14150,"c":1.14195},
{"i":399,"o":1.14195,"h":1.14299,"l":1.14187,"c":1.14284},
{"i":400,"o":1.14284,"h":1.14291,"l":1.14224,"c":1.14261},
{"i":401,"o":1.14261,"h":1.14328,"l":1.14254,"c":1.14284},
{"i":402,"o":1.14284,"h":1.14291,"l":1.14121,"c":1.14128},
{"i":403,"o":1.14128,"h":1.14143,"l":1.14091,"c":1.14106},
{"i":404,"o":1.14106,"h":1.14150,"l":1.14098,"c":1.14143},
{"i":405,"o":1.14143,"h":1.14180,"l":1.14135,"c":1.14165},
{"i":406,"o":1.14165,"h":1.14180,"l":1.14150,"c":1.14168},
{"i":407,"o":1.14168,"h":1.14180,"l":1.14143,"c":1.14158},
{"i":408,"o":1.14158,"h":1.14210,"l":1.14150,"c":1.14195},
{"i":409,"o":1.14195,"h":1.14254,"l":1.14180,"c":1.14210},
{"i":410,"o":1.14210,"h":1.14284,"l":1.14202,"c":1.14247},
{"i":411,"o":1.14247,"h":1.14261,"l":1.14195,"c":1.14210},
{"i":412,"o":1.14210,"h":1.14284,"l":1.14202,"c":1.14247},
{"i":413,"o":1.14247,"h":1.14284,"l":1.14224,"c":1.14247},
{"i":414,"o":1.14247,"h":1.14254,"l":1.14047,"c":1.14069},
{"i":415,"o":1.14069,"h":1.14150,"l":1.14047,"c":1.14061},
{"i":416,"o":1.14061,"h":1.14158,"l":1.14054,"c":1.14150},
{"i":417,"o":1.14150,"h":1.14217,"l":1.14135,"c":1.14165},
{"i":418,"o":1.14165,"h":1.14210,"l":1.14150,"c":1.14187},
{"i":419,"o":1.14187,"h":1.14202,"l":1.14165,"c":1.14187},
{"i":420,"o":1.14187,"h":1.14217,"l":1.14172,"c":1.14202},
{"i":421,"o":1.14202,"h":1.14232,"l":1.14195,"c":1.14224},
{"i":422,"o":1.14224,"h":1.14350,"l":1.14210,"c":1.14328},
{"i":423,"o":1.14328,"h":1.14380,"l":1.14306,"c":1.14336},
{"i":424,"o":1.14336,"h":1.14343,"l":1.14284,"c":1.14291},
{"i":425,"o":1.14291,"h":1.14306,"l":1.14239,"c":1.14291},
{"i":426,"o":1.14291,"h":1.14299,"l":1.14187,"c":1.14195},
{"i":427,"o":1.14195,"h":1.14210,"l":1.14135,"c":1.14165},
{"i":428,"o":1.14165,"h":1.14202,"l":1.14054,"c":1.14061},
{"i":429,"o":1.14061,"h":1.14076,"l":1.14017,"c":1.14032},
{"i":430,"o":1.14032,"h":1.14047,"l":1.13928,"c":1.14002},
{"i":431,"o":1.14002,"h":1.14128,"l":1.13987,"c":1.14121},
{"i":432,"o":1.14121,"h":1.14135,"l":1.14017,"c":1.14047},
{"i":433,"o":1.14047,"h":1.14224,"l":1.14032,"c":1.14076},
{"i":434,"o":1.14076,"h":1.14084,"l":1.13913,"c":1.13958},
{"i":435,"o":1.13958,"h":1.15590,"l":1.13940,"c":1.15459},
{"i":436,"o":1.15459,"h":1.15703,"l":1.15375,"c":1.15700},
{"i":437,"o":1.15700,"h":1.15835,"l":1.15506,"c":1.15561},
{"i":438,"o":1.15561,"h":1.15886,"l":1.15539,"c":1.15678},
{"i":439,"o":1.15678,"h":1.15729,"l":1.15536,"c":1.15561},
{"i":440,"o":1.15561,"h":1.15565,"l":1.15357,"c":1.15375},
{"i":441,"o":1.15375,"h":1.15546,"l":1.15371,"c":1.15546},
{"i":442,"o":1.15546,"h":1.15572,"l":1.15441,"c":1.15448},
{"i":443,"o":1.15448,"h":1.15477,"l":1.15389,"c":1.15397},
{"i":444,"o":1.15397,"h":1.15400,"l":1.15185,"c":1.15265},
{"i":445,"o":1.15265,"h":1.15275,"l":1.15163,"c":1.15269},
{"i":446,"o":1.15269,"h":1.15404,"l":1.15218,"c":1.15400},
{"i":447,"o":1.15400,"h":1.15484,"l":1.15236,"c":1.15262},
{"i":448,"o":1.15262,"h":1.15462,"l":1.15258,"c":1.15441},
{"i":449,"o":1.15441,"h":1.15689,"l":1.15433,"c":1.15682},
{"i":450,"o":1.15682,"h":1.15890,"l":1.15678,"c":1.15886},
{"i":451,"o":1.15886,"h":1.15966,"l":1.15882,"c":1.15915},
{"i":452,"o":1.15915,"h":1.15930,"l":1.15908,"c":1.15919},
{"i":453,"o":1.15919,"h":1.15922,"l":1.15798,"c":1.15893},
{"i":454,"o":1.15893,"h":1.15922,"l":1.15798,"c":1.15835},
{"i":455,"o":1.15835,"h":1.15846,"l":1.15776,"c":1.15835},
{"i":456,"o":1.15835,"h":1.15838,"l":1.15776,"c":1.15802},
{"i":457,"o":1.15802,"h":1.15904,"l":1.15798,"c":1.15879},
{"i":458,"o":1.15879,"h":1.15900,"l":1.15601,"c":1.15612},
{"i":459,"o":1.15612,"h":1.15616,"l":1.15557,"c":1.15576},
{"i":460,"o":1.15576,"h":1.15579,"l":1.15503,"c":1.15536},
{"i":461,"o":1.15536,"h":1.15722,"l":1.15532,"c":1.15714},
{"i":462,"o":1.15714,"h":1.15784,"l":1.15711,"c":1.15755},
{"i":463,"o":1.15755,"h":1.15784,"l":1.15747,"c":1.15758},
{"i":464,"o":1.15758,"h":1.15860,"l":1.15751,"c":1.15798},
{"i":465,"o":1.15798,"h":1.15828,"l":1.15784,"c":1.15802},
{"i":466,"o":1.15793,"h":1.15848,"l":1.15776,"c":1.15824}
]
},
"layer": [
{
"data": {"name": "levels"},
"mark": {"type": "rule", "strokeWidth": 1},
"encoding": {
"y": {"field": "p", "type": "quantitative", "title": null,
"scale": {"type": "linear", "domain": [1.13808, 1.18092], "nice": false, "zero": false},
"axis": {"orient": "right", "values": [1.13885,1.1403,1.14175,1.1432,1.14465,1.1461,1.14755,1.149,1.15045,1.1519,1.15335,1.1548,1.15625,1.1577,1.15915,1.1606,1.16205,1.1635,1.16495,1.1664,1.16785,1.1693,1.17075,1.1722,1.17365,1.1751,1.17655,1.178,1.17945],
"format": ".5f", "labelAlign": "left", "labelBaseline": "middle", "labelPadding": 6, "labelOverlap": false, "labelFlush": false,
"labelFont": "Liberation Sans", "labelFontSize": 18, "labelColor": "#000000",
"tickSize": 4, "tickColor": "#000000", "domainColor": "#000000", "domainWidth": 1.5,
"grid": true, "gridColor": "#C0C0C0", "gridDash": [3, 3], "gridWidth": 1, "title": null}},
"stroke": {"field": "g", "type": "nominal", "legend": null,
"scale": {"domain": ["Ext","+2/8","+1/8","RES","Price","7/8","6/8","5/8","PIVOT","3/8","2/8","1/8"],
"range": ["#FF0000","#C71585","#FF00FF","#1E90FF","#C0C0C0","#FF8C00","#FF4500","#556B2F","#1E90FF","#556B2F","#FF4500","#FF8C00"]}},
"strokeDash": {"field": "g", "type": "nominal", "legend": null,
"scale": {"domain": ["Ext","+2/8","+1/8","RES","Price","7/8","6/8","5/8","PIVOT","3/8","2/8","1/8"],
"range": [[1,0],[18,6],[10,5,3,5],[1,0],[1,0],[10,5,3,5],[18,6],[14,5,3,5],[1,0],[14,5,3,5],[18,6],[10,5,3,5]]}}
}
},
{
"data": {"name": "levels"},
"transform": [{"filter": "datum.label != ''"}],
"mark": {"type": "text", "align": "center", "baseline": "top", "dy": 2, "font": "Liberation Sans", "fontSize": 21, "clip": true},
"encoding": {
"x": {"datum": 440.1},
"y": {"field": "p", "type": "quantitative", "title": null},
"text": {"field": "label"},
"fill": {"field": "g", "type": "nominal", "legend": null,
"scale": {"domain": ["Ext","+2/8","+1/8","RES","Price","7/8","6/8","5/8","PIVOT","3/8","2/8","1/8"],
"range": ["#FF0000","#C71585","#FF00FF","#1E90FF","#000000","#FF8C00","#FF4500","#556B2F","#1E90FF","#556B2F","#FF4500","#FF8C00"]}}
}
},
{
"data": {"name": "bars"},
"mark": {"type": "rule", "color": "#000000", "strokeWidth": 1},
"encoding": {
"x": {"field": "i", "type": "quantitative", "title": null,
"scale": {"type": "linear", "domain": [-1.375, 935.125], "nice": false, "zero": false},
"axis": {"orient": "bottom", "values": [0,16,32,48,64,80,96,112,128,144,160,176,192,208,224,240,256,272,288,304,320,336,352,368,384,400,416,432,448,464,480,496,512,528,544,560,576,592,608,624,640,656,672,688,704,720,736,752,768,784,800,816,832,848,864,880,896,912,928],
"labelExpr": "datum.value % 32 == 0 && datum.value <= 448 ? ['21 Jul 2025','22 Jul 06:00','22 Jul 22:00','23 Jul 14:00','24 Jul 06:00','24 Jul 22:00','25 Jul 14:00','28 Jul 06:00','28 Jul 22:00','29 Jul 14:00','30 Jul 06:00','30 Jul 22:00','31 Jul 14:00','1 Aug 06:00','1 Aug 22:00'][datum.value / 32] : ''",
"labelAlign": "left", "labelBaseline": "middle", "labelPadding": 10, "labelOffset": 2, "labelOverlap": false, "labelFlush": false,
"labelFont": "Liberation Sans", "labelFontSize": 18, "labelColor": "#000000",
"tickSize": 4, "tickColor": "#000000", "domainColor": "#000000", "domainWidth": 1.5,
"grid": true, "gridColor": "#C0C0C0", "gridDash": [3, 3], "gridWidth": 1, "title": null}},
"y": {"field": "l", "type": "quantitative", "title": null},
"y2": {"field": "h"}
}
},
{
"data": {"name": "bars"},
"mark": {"type": "bar", "width": 2, "stroke": "#000000", "strokeWidth": 1},
"encoding": {
"x": {"field": "i", "type": "quantitative", "title": null},
"y": {"field": "o", "type": "quantitative", "title": null},
"y2": {"field": "c"},
"fill": {"condition": {"test": "datum.c > datum.o", "value": "#FFFFFF"}, "value": "#000000"}
}
},
{
"data": {"name": "box"},
"mark": {"type": "rect", "filled": false, "color": "#FFA500", "strokeWidth": 4, "cornerRadius": 17},
"encoding": {
"x": {"field": "x1", "type": "quantitative", "title": null},
"x2": {"field": "x2"},
"y": {"field": "p1", "type": "quantitative", "title": null},
"y2": {"field": "p2"}
}
},
{
"data": {"name": "curve"},
"mark": {"type": "line", "interpolate": "catmull-rom", "color": "#FFA500", "strokeWidth": 4.5, "strokeCap": "round"},
"encoding": {
"x": {"field": "x", "type": "quantitative", "title": null},
"y": {"field": "p", "type": "quantitative", "title": null},
"detail": {"field": "b", "type": "nominal"},
"order": {"field": "k", "type": "quantitative"}
}
},
{
"data": {"name": "oarrow"},
"mark": {"type": "point", "shape": "triangle-up", "filled": true, "color": "#FFA500", "size": 140, "angle": 59, "opacity": 1},
"encoding": {
"x": {"field": "x", "type": "quantitative", "title": null},
"y": {"field": "p", "type": "quantitative", "title": null}
}
},
{
"data": {"name": "strokes"},
"mark": {"type": "line", "strokeWidth": 7, "strokeCap": "round"},
"encoding": {
"x": {"field": "x", "type": "quantitative", "title": null},
"y": {"field": "p", "type": "quantitative", "title": null},
"order": {"field": "k", "type": "quantitative"},
"color": {"field": "s", "type": "nominal", "legend": null,
"scale": {"domain": ["v","b","r"], "range": ["#4157FF","#4157FF","#FF3F3F"]}}
}
},
{
"data": {"name": "arrow"},
"mark": {"type": "point", "shape": "triangle-up", "filled": true, "color": "#FF3F3F", "size": 260, "angle": 17, "opacity": 1},
"encoding": {
"x": {"field": "x", "type": "quantitative", "title": null},
"y": {"field": "p", "type": "quantitative", "title": null}
}
},
{
"data": {"name": "levels"},
"transform": [{"filter": "datum.g == 'Ext'"}],
"mark": {"type": "point", "shape": "square", "filled": false, "color": "#FF0000", "size": 30, "strokeWidth": 1, "opacity": 1},
"encoding": {
"x": {"datum": 0.4},
"y": {"field": "p", "type": "quantitative", "title": null}
}
},
{
"data": {"name": "levels"},
"mark": {"type": "tick", "orient": "horizontal", "thickness": 23, "size": 80, "opacity": 1},
"encoding": {
"x": {"datum": 945.6},
"y": {"field": "p", "type": "quantitative", "title": null},
"fill": {"field": "g", "type": "nominal", "legend": null}
}
},
{
"data": {"name": "levels"},
"mark": {"type": "text", "align": "left", "baseline": "middle", "font": "Liberation Sans", "fontSize": 18, "color": "#FFFFFF"},
"encoding": {
"x": {"datum": 937.6},
"y": {"field": "p", "type": "quantitative", "title": null},
"text": {"field": "p", "type": "quantitative", "format": ".5f"}
}
},
{
"data": {"name": "title"},
"mark": {"type": "text", "align": "left", "baseline": "middle", "font": "Liberation Sans", "fontSize": 18, "color": "#000000"},
"encoding": {
"x": {"datum": 0.6},
"y": {"datum": 1.18062},
"text": {"field": "t"}
}
}
]
}
